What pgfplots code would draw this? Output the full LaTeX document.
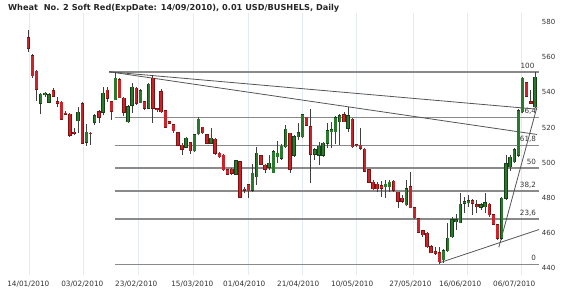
\documentclass[border=0pt]{standalone}
\usepackage{fontspec}
\setmainfont{DejaVu Sans}
\usepackage{pgfplots}
\pgfplotsset{compat=1.18}
\usepackage{pgfplotstable}
\definecolor{bullfill}{HTML}{2A7A2E}
\definecolor{bullline}{HTML}{163F18}
\definecolor{bearfill}{HTML}{CC2229}
\definecolor{bearline}{HTML}{7A1212}
\definecolor{wick}{HTML}{404040}
\definecolor{fib}{HTML}{8A8A8A}
\definecolor{trend}{HTML}{555555}
\definecolor{vgrid}{HTML}{E3EAF0}
\definecolor{lbl}{HTML}{333333}

\pgfplotstableread{
i o h l c
0 571.1 575.5 563.1 565.1
1 560.8 561.6 548.3 549.5
2 552.1 552.7 535.0 541.7
3 533.8 539.4 527.5 538.9
4 538.5 540.3 537.5 539.4
5 534.3 539.4 533.8 538.5
6 540.8 542.6 537.5 537.9
7 534.7 537.1 531.4 533.8
8 534.3 535.1 524.2 524.8
9 528.1 529.4 527.1 527.5
10 527.5 528.1 514.7 515.7
11 517.2 519.5 515.7 516.7
12 523.7 531.4 517.1 528.6
13 533.4 534.3 510.9 511.0
14 511.6 521.8 509.7 517.2
15 516.7 517.7 510.0 516.4
16 522.9 527.5 521.4 526.8
17 528.8 529.9 522.6 525.8
18 528.6 543.2 527.1 539.4
19 541.1 543.2 534.7 536.6
20 534.5 535.1 524.2 529.2
21 535.9 551.6 535.6 548.0
22 547.2 548.3 536.5 536.8
23 536.6 537.5 526.5 528.8
24 523.3 532.8 522.7 531.8
25 532.8 545.5 528.1 542.9
26 542.3 542.9 532.8 533.8
27 534.1 541.7 533.8 540.9
28 534.7 535.2 529.9 530.9
29 530.9 545.1 530.3 544.7
30 548.0 549.9 522.4 530.9
31 530.5 530.9 529.0 530.1
32 540.4 541.7 528.4 529.0
33 529.6 529.9 519.5 520.1
34 523.3 523.8 522.0 522.4
35 521.4 521.8 517.0 518.2
36 517.0 517.6 509.4 510.0
37 510.0 511.0 504.3 507.6
38 508.7 514.4 508.1 513.8
39 511.3 511.9 504.9 506.8
40 506.8 516.3 506.2 515.7
41 516.3 526.1 515.7 524.6
42 520.1 520.4 516.3 517.0
43 515.7 516.3 510.6 511.0
44 511.0 519.5 510.6 513.8
45 513.3 513.8 504.3 505.3
46 505.3 506.2 502.4 503.4
47 504.3 504.9 495.4 495.8
48 495.8 496.2 492.9 493.5
49 496.2 496.8 492.9 493.9
50 493.5 501.5 492.9 501.1
51 500.5 501.1 479.7 480.2
52 484.8 486.3 482.5 484.2
53 487.3 487.8 479.7 484.0
54 484.4 499.2 483.4 493.9
55 492.0 508.7 487.3 505.3
56 503.8 504.3 498.6 499.2
57 498.6 499.2 493.9 496.2
58 497.3 504.3 495.8 499.6
59 494.3 507.2 493.9 506.2
60 503.4 512.5 500.0 505.3
61 502.4 510.6 501.5 509.4
62 509.1 521.4 508.1 519.0
63 516.7 517.0 494.3 496.2
64 504.3 515.7 503.4 514.7
65 514.7 522.4 512.9 517.0
66 514.7 527.7 513.8 527.1
67 525.8 526.1 520.8 521.4
68 520.4 530.3 488.2 504.9
69 504.9 508.3 501.5 507.2
70 504.3 511.9 498.6 509.4
71 504.3 511.9 503.4 511.0
72 511.0 522.4 508.1 518.0
73 517.6 523.3 508.1 518.6
74 517.6 526.7 510.4 525.6
75 523.3 527.5 510.0 526.7
76 527.1 528.6 522.9 523.3
77 519.5 531.8 517.6 526.7
78 524.8 525.6 508.5 509.1
79 510.2 510.4 509.1 509.7
80 510.0 519.9 507.2 508.1
81 507.7 508.1 494.5 495.2
82 495.8 496.4 488.2 488.8
83 488.8 490.1 484.4 485.0
84 487.6 488.8 483.1 485.0
85 486.9 489.5 480.6 485.4
86 486.3 490.0 479.7 487.6
87 486.3 490.1 483.4 488.8
88 489.5 490.1 483.4 484.4
89 483.1 483.4 474.3 478.1
90 479.7 481.6 476.8 478.1
91 475.9 490.1 475.5 485.0
92 486.3 494.8 474.0 474.3
93 474.3 474.9 467.9 468.6
94 467.9 468.6 459.8 460.3
95 461.1 461.6 457.8 458.8
96 459.8 460.3 451.6 452.1
97 452.1 453.1 448.4 448.8
98 449.3 452.1 447.4 448.4
99 448.7 452.1 442.1 443.6
100 444.6 450.6 443.0 449.9
101 449.9 465.4 449.3 456.9
102 457.8 469.2 456.9 467.3
103 466.4 470.7 461.6 467.3
104 465.8 482.5 465.4 476.4
105 476.8 480.6 471.1 477.7
106 477.1 481.6 474.9 478.3
107 478.3 479.1 470.2 476.8
108 475.9 478.7 471.1 474.9
109 474.6 477.1 473.1 475.9
110 474.9 482.5 471.1 477.1
111 476.4 477.1 469.2 470.2
112 470.2 470.7 464.5 465.0
113 464.5 465.0 455.9 456.9
114 456.9 480.6 455.9 479.7
115 479.7 504.3 478.7 499.2
116 497.7 504.3 495.4 503.0
117 500.5 508.1 499.6 507.2
118 504.3 530.3 503.4 529.6
119 529.0 548.6 528.1 548.0
120 545.5 546.0 537.2 537.9
121 534.7 541.3 533.4 533.8
122 531.8 551.7 530.9 548.7
}\ohlc

\begin{document}
\begin{tikzpicture}
\path[use as bounding box] (-5bp,-19bp) rectangle (565bp,275bp);
\begin{axis}[
  scale only axis, width=534bp, height=261.7bp,
  xmin=-5.61, xmax=122.97, ymin=436, ymax=585,
  axis line style={draw=none},
  major tick length=0pt,
  /pgf/number format/assume math mode=true,
  xtick={0,13,26,39.5,52,65,78,92,104,117},
  xticklabels={14/01/2010,03/02/2010,23/02/2010,15/03/2010,01/04/2010,21/04/2010,10/05/2010,27/05/2010,16/06/2010,06/07/2010},
  xticklabel style={anchor=base, yshift=-11.6bp, inner sep=0pt, font=\fontsize{7.3bp}{8bp}\selectfont, text=lbl},
  ytick={440,460,...,580},
  yticklabel pos=right,
  yticklabel style={anchor=west, inner sep=0pt, xshift=2.7bp, font=\fontsize{7bp}{8bp}\selectfont, text=lbl},
  extra x ticks={0.17,13.3,26.5,39.7,53,66.1,79.1,92.6,105.6,118.6},
  extra x tick labels={},
  extra x tick style={grid=major},
  major grid style={vgrid, line width=0.7bp},
  title={Wheat\ \ No. 2 Soft Red(ExpDate: 14/09/2010), 0.01 USD/BUSHELS, Daily},
  title style={at={(0.0056,1.019)}, anchor=west, yshift=-6pt, inner sep=0pt, font=\bfseries\fontsize{8.2bp}{9bp}\selectfont, text=black!85},
]
% Fibonacci levels
\addplot[fib, line width=1.3bp] coordinates {(19.5,551.6) (122.97,551.6)};
\addplot[fib, line width=1.3bp] coordinates {(20.9,525.8) (122.97,525.8)};
\addplot[fib, line width=1.3bp] coordinates {(20.9,509.8) (122.97,509.8)};
\addplot[fib, line width=1.3bp] coordinates {(20.9,496.85) (122.97,496.85)};
\addplot[fib, line width=1.3bp] coordinates {(20.9,483.9) (122.97,483.9)};
\addplot[fib, line width=1.3bp] coordinates {(20.9,467.9) (122.97,467.9)};
\addplot[fib, line width=1.3bp] coordinates {(20.9,442.1) (122.97,442.1)};
% labels
\begin{scope}[every node/.style={anchor=base east, inner sep=0pt, yshift=3.5bp, font=\fontsize{7.2bp}{8bp}\selectfont, text=lbl}]
\node at (axis cs:121.9,551.6) {100};
\node at (axis cs:122.3,525.8) {76,4};
\node at (axis cs:122.3,509.8) {61,8};
\node at (axis cs:122.3,496.85) {50};
\node at (axis cs:122.3,483.9) {38,2};
\node at (axis cs:122.3,467.9) {23,6};
\node at (axis cs:122.3,442.1) {0};
\end{scope}
% trend lines
\addplot[trend, line width=0.8bp] coordinates {(19.5,551.7) (122.5,530.4)};
\addplot[trend, line width=0.8bp] coordinates {(19.5,551.7) (122.5,516.0)};
\addplot[trend, line width=0.8bp] coordinates {(99.1,443.0) (122.97,461.9)};
\addplot[trend, line width=0.8bp] coordinates {(113.3,451.8) (122.5,531.8)};
% wicks
\addplot[draw=none, mark=none, forget plot,
  error bars/.cd, y dir=plus, y explicit, error mark=none,
  error bar style={draw=wick, line width=0.8bp}]
  table[x=i, y=l, y error expr=\thisrow{h}-\thisrow{l}] {\ohlc};
% bullish bodies
\addplot[draw=none, mark=none, forget plot,
  restrict expr to domain={\thisrow{c}-\thisrow{o}}{-0.0001:1000},
  error bars/.cd, y dir=plus, y explicit, error mark=none,
  error bar style={draw=bullline, line width=3.4bp}]
  table[x=i, y expr=\thisrow{o}-0.3, y error expr=\thisrow{c}-\thisrow{o}+0.6] {\ohlc};
\addplot[draw=none, mark=none, forget plot,
  restrict expr to domain={\thisrow{c}-\thisrow{o}}{-0.0001:1000},
  error bars/.cd, y dir=plus, y explicit, error mark=none,
  error bar style={draw=bullfill, line width=2.4bp}]
  table[x=i, y=o, y error expr=\thisrow{c}-\thisrow{o}] {\ohlc};
% bearish bodies
\addplot[draw=none, mark=none, forget plot,
  restrict expr to domain={\thisrow{o}-\thisrow{c}}{0.00001:1000},
  error bars/.cd, y dir=plus, y explicit, error mark=none,
  error bar style={draw=bearline, line width=3.4bp}]
  table[x=i, y expr=\thisrow{c}-0.3, y error expr=\thisrow{o}-\thisrow{c}+0.6] {\ohlc};
\addplot[draw=none, mark=none, forget plot,
  restrict expr to domain={\thisrow{o}-\thisrow{c}}{0.00001:1000},
  error bars/.cd, y dir=plus, y explicit, error mark=none,
  error bar style={draw=bearfill, line width=2.4bp}]
  table[x=i, y=c, y error expr=\thisrow{o}-\thisrow{c}] {\ohlc};
\end{axis}
\end{tikzpicture}
\end{document}
